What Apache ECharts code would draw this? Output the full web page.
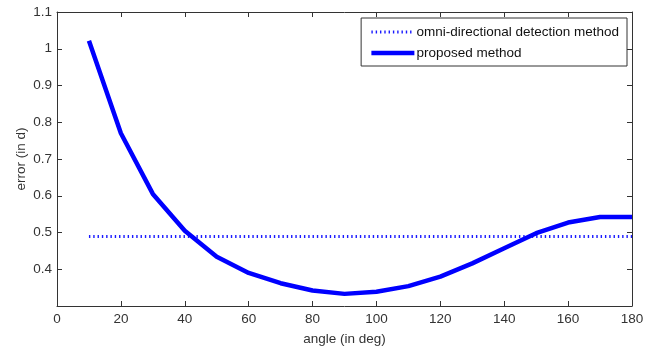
<!DOCTYPE html>
<html>
<head>
<meta charset="utf-8">
<script src="https://cdn.jsdelivr.net/npm/echarts@6/dist/echarts.min.js"></script>
<style>
html,body{margin:0;padding:0;background:#fff;}
#chart{width:653px;height:347px;}
</style>
</head>
<body>
<div id="chart"></div>
<script>
var angles = [10,20,30,40,50,60,70,80,90,100,110,120,130,140,150,160,170,180];
var proposed = [1.022,0.77,0.605,0.505,0.434,0.39,0.362,0.342,0.333,0.339,0.354,0.38,0.416,0.457,0.498,0.527,0.542,0.542];
var omniValue = 0.489;
var omni = angles.map(function(){ return omniValue; });
var seriesNames = ['omni-directional detection method','proposed method'];
var xTitle = 'angle (in deg)';
var yTitle = 'error (in d)';

var chart = echarts.init(document.getElementById('chart'), null, {renderer:'canvas'});
var font = 'Liberation Sans, Arial, sans-serif';
var axisColor = '#333';
var omniStyle = {color:'#1a1aff',width:3,type:[1.4,2.9],cap:'butt'};
var propStyle = {color:'#0000ff',width:4.5,join:'round'};
function pairs(vals){ return angles.map(function(a,i){ return [a, vals[i]]; }); }
chart.setOption({
  animation:false,
  backgroundColor:'#fff',
  grid:{left:57,right:21,top:12,bottom:41,containLabel:false,outerBoundsMode:'none'},
  legend:{
    orient:'vertical', right:26, top:18,
    backgroundColor:'#fff', borderColor:'#333', borderWidth:1,
    padding:[7,8,6,8], itemWidth:43, itemHeight:12, itemGap:7,
    itemStyle:{opacity:0},
    textStyle:{fontFamily:font,fontSize:13.5,color:'#111',padding:[0,0,0,-3]},
    data:[
      {name:seriesNames[0], lineStyle:{width:3,type:[1.4,2.9],color:'#1a1aff',cap:'butt'}},
      {name:seriesNames[1], lineStyle:{width:4.5,type:'solid',color:'#0000ff'}}
    ]
  },
  xAxis:[{
    type:'value', min:0, max:180, interval:20,
    name:xTitle, nameLocation:'middle', nameGap:26, nameMoveOverlap:false,
    nameTextStyle:{fontFamily:font,fontSize:13.5,color:axisColor},
    axisLine:{show:true,onZero:false,lineStyle:{color:axisColor,width:1}},
    axisTick:{show:true,inside:true,length:5,lineStyle:{color:axisColor}},
    axisLabel:{fontFamily:font,fontSize:13.5,color:axisColor,margin:6},
    splitLine:{show:false}
  },{
    type:'value', position:'top', min:0, max:180, interval:20,
    axisLine:{show:true,onZero:false,lineStyle:{color:axisColor,width:1}},
    axisTick:{show:true,inside:true,length:5,lineStyle:{color:axisColor}},
    axisLabel:{show:false}, splitLine:{show:false}
  }],
  yAxis:[{
    type:'value', min:0.3, max:1.1, interval:0.1,
    name:yTitle, nameLocation:'middle', nameGap:29, nameRotate:90, nameMoveOverlap:false,
    nameTextStyle:{fontFamily:font,fontSize:13.5,color:axisColor},
    axisLine:{show:true,onZero:false,lineStyle:{color:axisColor,width:1}},
    axisTick:{show:true,inside:true,length:5,lineStyle:{color:axisColor}},
    axisLabel:{fontFamily:font,fontSize:13.5,color:axisColor,margin:5,showMinLabel:false,
      formatter:function(v){ return String(Math.round(v*10)/10); }},
    splitLine:{show:false}
  },{
    type:'value', position:'right', min:0.3, max:1.1, interval:0.1,
    axisLine:{show:true,onZero:false,lineStyle:{color:axisColor,width:1}},
    axisTick:{show:true,inside:true,length:5,lineStyle:{color:axisColor}},
    axisLabel:{show:false}, splitLine:{show:false}
  }],
  series:[{
    name:seriesNames[0], type:'line', symbol:'none', showSymbol:false,
    data:pairs(omni),
    lineStyle:omniStyle,
    itemStyle:{color:omniStyle.color}
  },{
    name:seriesNames[1], type:'line', symbol:'none', showSymbol:false,
    data:pairs(proposed),
    lineStyle:propStyle,
    itemStyle:{color:propStyle.color}
  }]
});
</script>
</body>
</html>
